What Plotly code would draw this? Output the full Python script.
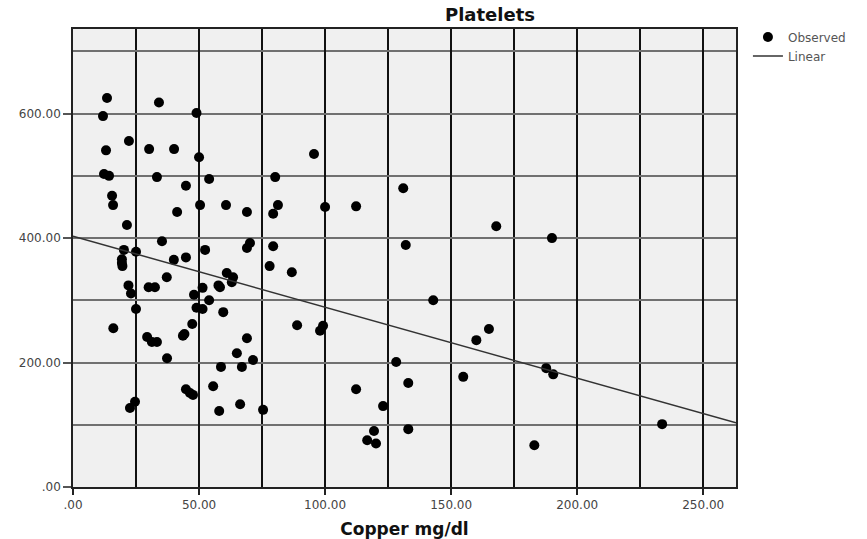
import plotly.graph_objects as go

# Observed data (Copper mg/dl vs Platelets)
copper = [13.5, 11.9, 34.1, 49.0, 22.2, 13.1, 30.2, 40.1, 50.0, 12.3, 14.3, 33.3, 54.0, 44.8, 80.2,
          15.5, 15.9, 41.3, 50.4, 60.7, 69.0, 79.4, 81.3, 21.4, 95.6, 131.0, 100.0, 112.3, 167.9, 190.0,
          132.0, 35.3, 20.2, 25.0, 19.4, 19.4, 19.6, 40.0, 44.8, 52.4, 69.0, 70.2, 79.4, 78.0, 86.8,
          37.2, 61.0, 63.5, 63.0, 57.7, 58.3, 22.0, 23.0, 30.0, 32.5, 51.4, 48.0, 54.0, 25.0, 49.0,
          51.4, 59.6, 16.0, 47.3, 43.6, 44.2, 29.4, 31.3, 33.3, 69.0, 37.3, 65.0, 71.4, 58.7, 67.0,
          55.6, 44.8, 46.4, 47.6, 24.6, 22.6, 58.0, 66.3, 75.4, 88.9, 142.9, 99.2, 98.0, 165.0, 160.0,
          128.2, 133.0, 154.8, 187.7, 190.5, 112.3, 123.0, 119.4, 116.7, 120.2, 133.0, 183.0, 233.7]
platelets = [625, 596, 618, 601, 556, 541, 543, 543, 530, 503, 500, 498, 495, 484, 498,
             468, 453, 442, 453, 453, 442, 439, 453, 421, 535, 480, 450, 451, 419, 400,
             389, 395, 381, 378, 366, 360, 355, 365, 369, 381, 384, 392, 387, 355, 345,
             337, 344, 337, 329, 324, 321, 324, 311, 321, 321, 320, 309, 300, 286, 288,
             286, 281, 255, 262, 243, 246, 241, 233, 233, 239, 207, 215, 204, 193, 193,
             162, 157, 151, 148, 137, 127, 122, 133, 124, 260, 300, 259, 251, 254, 236,
             201, 167, 177, 191, 181, 157, 130, 90, 75, 70, 93, 67, 101]

# Linear fit line (endpoints)
linear_x = [0, 263]
linear_y = [403, 103]

x_ticks = [0, 50, 100, 150, 200, 250]
x_ticktext = [".00", "50.00", "100.00", "150.00", "200.00", "250.00"]
y_ticks = [0, 200, 400, 600]
y_ticktext = [".00", "200.00", "400.00", "600.00"]

fig = go.Figure()
fig.add_trace(go.Scatter(x=copper, y=platelets, mode="markers", name="Observed",
                         marker=dict(color="black", size=10, line=dict(width=0)),
                         cliponaxis=False))
fig.add_trace(go.Scatter(x=linear_x, y=linear_y, mode="lines", name="Linear",
                         line=dict(color="#333333", width=1.5)))

tickfont = dict(family="DejaVu Sans", size=12, color="#444444")

fig.update_layout(
    width=867, height=539,
    margin=dict(l=73, r=131, t=29, b=52),
    paper_bgcolor="white",
    plot_bgcolor="#f0f0f0",
    title=dict(text="<b>Platelets</b>", x=490/867, xanchor="center", y=1 - 15/539, yanchor="middle",
               font=dict(family="DejaVu Sans", size=18, color="#111111")),
    legend=dict(x=1.018, y=1.014, xanchor="left", yanchor="top",
                font=dict(family="DejaVu Sans", size=12, color="#555555"),
                bgcolor="rgba(0,0,0,0)", tracegroupgap=0, itemwidth=30),
    xaxis=dict(range=[0, 263], tickvals=x_ticks, ticktext=x_ticktext, tickfont=tickfont,
               ticks="outside", ticklen=6, tickcolor="#222222", tickwidth=1.5,
               showgrid=True, gridcolor="#111111", gridwidth=1.5,
               minor=dict(dtick=25, tick0=0, showgrid=True, gridcolor="#111111", gridwidth=1.5, ticks=""),
               showline=True, linecolor="#222222", linewidth=2, mirror=True, zeroline=False,
               automargin=False,
               title=dict(text="<b>Copper mg/dl</b>", standoff=12,
                          font=dict(family="DejaVu Sans", size=17, color="#111111"))),
    yaxis=dict(range=[0, 736], tickvals=y_ticks, ticktext=y_ticktext, tickfont=tickfont,
               ticks="outside", ticklen=8, tickcolor="#555555", tickwidth=1.5,
               showgrid=True, gridcolor="#707070", gridwidth=2,
               minor=dict(dtick=100, tick0=0, showgrid=True, gridcolor="#707070", gridwidth=2, ticks=""),
               showline=True, linecolor="#222222", linewidth=1.5, mirror=True, zeroline=False,
               automargin=False),
)

fig.write_html("out.html")
